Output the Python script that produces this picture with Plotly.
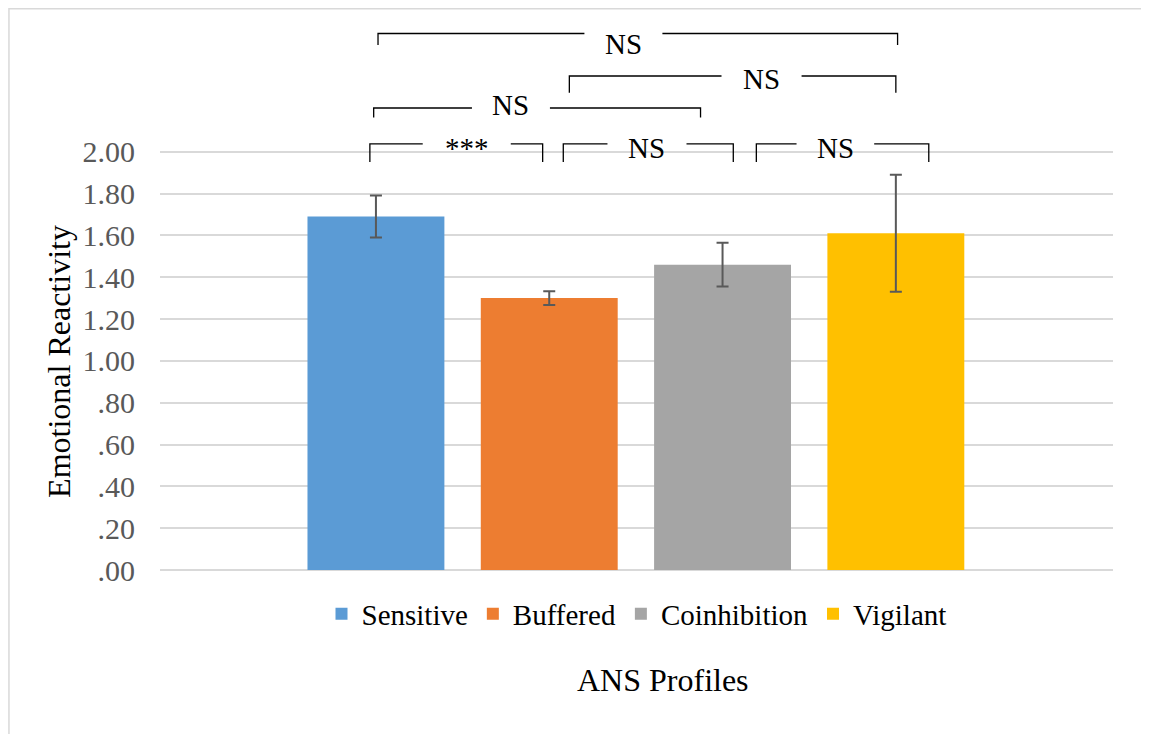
import plotly.graph_objects as go

# ---- data ----
profiles = ["Sensitive", "Buffered", "Coinhibition", "Vigilant"]
means = [1.69, 1.30, 1.46, 1.61]
errors = [0.10, 0.033, 0.105, 0.28]
colors = ["#5B9BD5", "#ED7D31", "#A5A5A5", "#FFC000"]

tick_values = [0.0, 0.2, 0.4, 0.6, 0.8, 1.0, 1.2, 1.4, 1.6, 1.8, 2.0]
tick_labels = [".00", ".20", ".40", ".60", ".80", "1.00", "1.20", "1.40", "1.60", "1.80", "2.00"]

# significance brackets (category-index units on x, value units on y)
bracket_labels = ["***", "NS", "NS", "NS", "NS", "NS"]
bracket_left = [-0.035, 1.081, 2.195, -0.013, 1.116, 0.012]
bracket_right = [0.962, 2.062, 3.19, 1.873, 3.0, 3.01]
bracket_level = [2.037, 2.037, 2.037, 2.209, 2.362, 2.565]
bracket_drop = [0.086, 0.086, 0.086, 0.046, 0.08, 0.055]
label_center = [0.524, 1.564, 2.651, 0.779, 2.225, 1.428]
label_halfgap = [0.254, 0.228, 0.224, 0.225, 0.231, 0.225]
label_y = [2.018, 2.018, 2.018, 2.223, 2.348, 2.515]

FONT = "Liberation Serif"

fig = go.Figure()
for name, m, e, c in zip(profiles, means, errors, colors):
    fig.add_trace(go.Bar(
        x=[name], y=[m], name=name, marker=dict(color=c, line=dict(width=0)),
        width=0.79,
        error_y=dict(type="data", array=[e], visible=True, color="#595959",
                     thickness=2, width=6),
    ))

shapes = []
annotations = []
for lab, xl, xr, lv, dr, lc, hg, ly in zip(bracket_labels, bracket_left, bracket_right,
                                         bracket_level, bracket_drop, label_center,
                                         label_halfgap, label_y):
    line = dict(color="#000000", width=1.3)
    shapes.append(dict(type="path", xref="x", yref="y",
                       path=f"M {xl},{lv - dr} L {xl},{lv} L {lc - hg},{lv}",
                       line=line))
    shapes.append(dict(type="path", xref="x", yref="y",
                       path=f"M {lc + hg},{lv} L {xr},{lv} L {xr},{lv - dr}",
                       line=line))
    annotations.append(dict(x=lc, y=ly, xref="x", yref="y", text=lab, showarrow=False,
                            font=dict(family=FONT, size=29, color="#000000"),
                            xanchor="center", yanchor="middle"))

# chart border
shapes.append(dict(type="rect", xref="paper", yref="paper", x0=-0.1585, x1=1.0357,
                   y0=-0.40, y1=0.9985, line=dict(color="#D9D9D9", width=1.5),
                   layer="below"))

annotations.append(dict(x=0.528, y=-0.196, xref="paper", yref="paper", text="ANS Profiles",
                        showarrow=False, font=dict(family=FONT, size=32, color="#000000"),
                        xanchor="center", yanchor="middle"))
annotations.append(dict(x=-0.106, y=0.372, xref="paper", yref="paper",
                        text="Emotional Reactivity", textangle=-90, showarrow=False,
                        font=dict(family=FONT, size=32, color="#000000"),
                        xanchor="center", yanchor="middle"))

fig.update_layout(
    width=1149, height=734,
    margin=dict(l=152, r=44, t=0, b=172),
    paper_bgcolor="white", plot_bgcolor="white",
    barmode="overlay",
    showlegend=True,
    legend=dict(orientation="h", x=0.5, xanchor="center", y=-0.078, yanchor="middle",
                font=dict(family=FONT, size=29, color="#000000"), bgcolor="rgba(0,0,0,0)"),
    xaxis=dict(type="category", categoryorder="array", categoryarray=profiles,
               range=[-1.246, 4.253], showticklabels=False, showgrid=False,
               zeroline=False, showline=False, ticks=""),
    yaxis=dict(range=[0, 2.687], tickmode="array", tickvals=tick_values,
               ticktext=tick_labels, showgrid=True, gridcolor="#D9D9D9", gridwidth=2,
               zeroline=True, zerolinecolor="#D9D9D9", zerolinewidth=2, showline=False,
               ticks="", ticklabelstandoff=24,
               tickfont=dict(family=FONT, size=30, color="#595959")),
    shapes=shapes,
    annotations=annotations,
    font=dict(family=FONT),
)

fig.write_html("out.html")
